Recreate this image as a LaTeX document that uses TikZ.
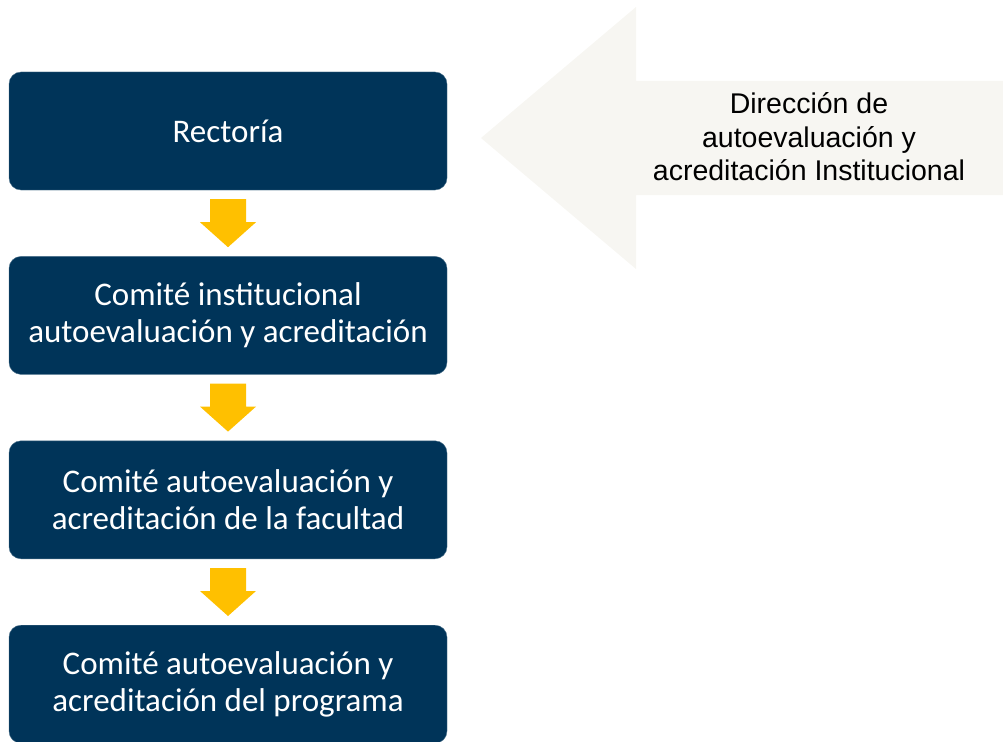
\documentclass[tikz,border=0pt]{standalone}
\usepackage{fontspec}
\setmainfont{Carlito}
\newfontfamily\arialfont{Liberation Sans}
\usepackage{tikz}
\usetikzlibrary{positioning}

\definecolor{navy}{RGB}{0,52,89}
\definecolor{gold}{RGB}{255,192,0}
\definecolor{paper}{RGB}{247,246,242}

\tikzset{
  level/.style={fill=navy, draw=navy!70!white, rounded corners=12pt,
    minimum width=438pt, minimum height=118pt, text=white, align=center,
    inner sep=0pt, font=\fontsize{33}{37}\selectfont},
  down/.style={fill=gold},
}

\begin{document}
\begin{tikzpicture}[x=1pt,y=-1pt]
    \useasboundingbox (0,0) rectangle (1003,741);
    % niveles
    \node[level] (rect) at (228,131) {Rectoría};
    \node[level, below=66pt of rect] (inst) {Comité institucional\\autoevaluación y acreditación};
    \node[level, below=66pt of inst] (fac) {Comité autoevaluación y\\acreditación de la facultad};
    \node[level, below=66pt of fac] (prog) {Comité autoevaluación y\\acreditación del programa};
    % flechas amarillas
    \foreach \a in {rect,inst,fac}
      \fill[down, shift={(\a.south)}] (-18,9) -- (18,9) -- (18,32) -- (28,32)
        -- (0,57) -- (-28,32) -- (-18,32) -- cycle;
    % flecha grande
    \fill[paper] (481,138) -- (636,7) -- (636,81) -- (1003,81) -- (1003,195)
      -- (636,195) -- (636,269) -- cycle;
    \node[align=center, font=\arialfont\fontsize{28.5}{33.5}\selectfont] (dir) at (809,137)
      {Dirección de\\autoevaluación y\\acreditación Institucional};
\end{tikzpicture}
\end{document}
